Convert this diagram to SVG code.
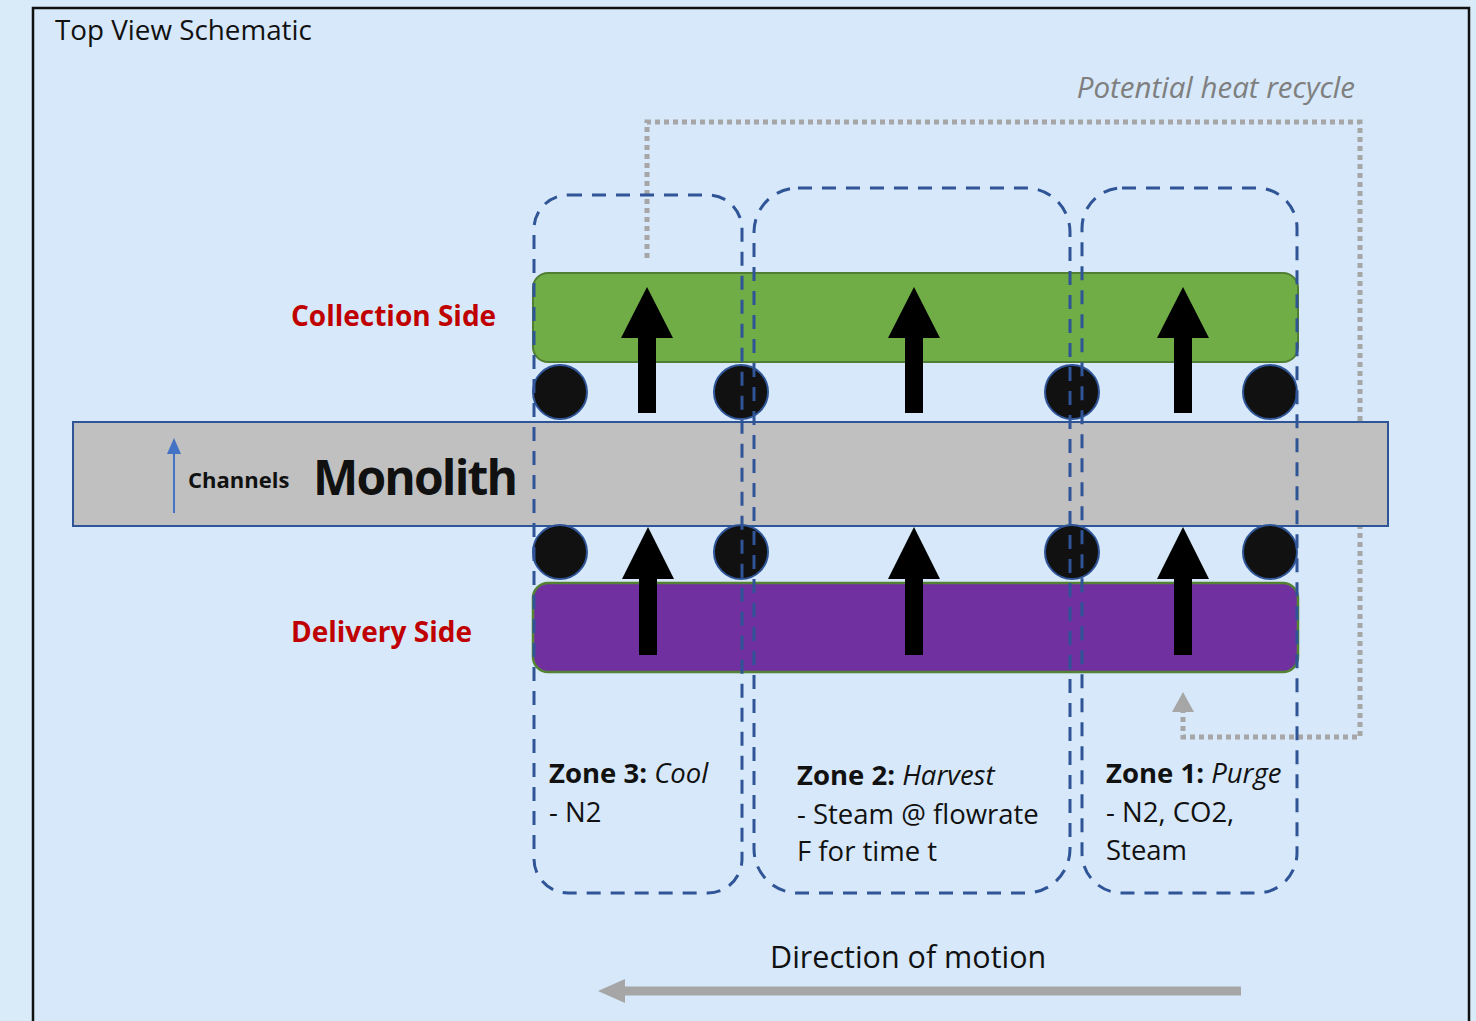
<svg xmlns="http://www.w3.org/2000/svg" width="1476" height="1021" viewBox="0 0 1476 1021">
<defs>
<style>
.t{font-family:"Open Sans","Liberation Sans",sans-serif;fill:#111}
.red{font-family:"Open Sans","Liberation Sans",sans-serif;font-weight:bold;fill:#c00000;font-size:28px}
.zone{fill:none;stroke:#2f5597;stroke-width:3;stroke-dasharray:14 10}
.wheel{fill:#111;stroke:#2f5597;stroke-width:2}
.up{fill:#000}
.zt{font-family:"Open Sans","Liberation Sans",sans-serif;font-size:27.5px;fill:#111}
</style>
</defs>
<rect x="0" y="0" width="1476" height="1021" fill="#d9eaf9"/>
<rect x="33" y="8" width="1436" height="1030" fill="#d6e8f9" stroke="#111" stroke-width="2.5"/>
<text class="t" x="55" y="40" font-size="27.8">Top View Schematic</text>

<g id="recycle">
<polyline points="647,258 647,122 1360,122 1360,737 1183,737 1183,712" fill="none" stroke="#a6a6a6" stroke-width="5" stroke-dasharray="5 4"/>
<path d="M1172,712 L1183,692 L1194,712 Z" fill="#a6a6a6"/>
<text x="1355" y="98" text-anchor="end" font-family="'Open Sans','Liberation Sans',sans-serif" font-style="italic" font-size="29.5" fill="#7f7f7f">Potential heat recycle</text>
</g>

<g id="collection">
<rect x="533" y="273" width="765" height="89" rx="15" fill="#70ad47" stroke="#507e32" stroke-width="2"/>
<text class="red" x="291" y="326">Collection Side</text>
</g>
<g id="delivery">
<rect x="533" y="583" width="765" height="89" rx="15" fill="#7030a0" stroke="#548235" stroke-width="2.5"/>
<text class="red" x="291" y="642">Delivery Side</text>
</g>

<g id="monolith">
<rect x="73" y="422" width="1315" height="104" fill="#c0c0c0" stroke="#2f5597" stroke-width="2"/>
<line x1="174" y1="513" x2="174" y2="452" stroke="#4472c4" stroke-width="2"/>
<path d="M167,454 L174,438 L181,454 Z" fill="#4472c4"/>
<text class="t" x="188" y="488" font-size="22" font-weight="bold">Channels</text>
<text class="t" x="313" y="495" font-size="48" font-weight="bold" textLength="205">Monolith</text>
</g>

<g id="wheels">
<circle class="wheel" cx="560" cy="392" r="27"/>
<circle class="wheel" cx="741" cy="392" r="27"/>
<circle class="wheel" cx="1072" cy="392" r="27"/>
<circle class="wheel" cx="1270" cy="392" r="27"/>
<circle class="wheel" cx="560" cy="552" r="27"/>
<circle class="wheel" cx="741" cy="552" r="27"/>
<circle class="wheel" cx="1072" cy="552" r="27"/>
<circle class="wheel" cx="1270" cy="552" r="27"/>
</g>

<g id="connectors">
<path class="up" d="M638,413 L638,338 L621,338 L647,287 L673,338 L656,338 L656,413 Z"/>
<path class="up" d="M905,413 L905,338 L888,338 L914,287 L940,338 L923,338 L923,413 Z"/>
<path class="up" d="M1174,413 L1174,338 L1157,338 L1183,287 L1209,338 L1192,338 L1192,413 Z"/>
<path class="up" d="M639,655 L639,579 L622,579 L648,527 L674,579 L657,579 L657,655 Z"/>
<path class="up" d="M905,655 L905,579 L888,579 L914,527 L940,579 L923,579 L923,655 Z"/>
<path class="up" d="M1174,655 L1174,579 L1157,579 L1183,527 L1209,579 L1192,579 L1192,655 Z"/>
</g>

<g id="zone3">
<rect class="zone" x="534" y="195" width="208" height="698" rx="34"/>
<text class="zt" x="549" y="783"><tspan font-weight="bold">Zone 3:</tspan> <tspan font-style="italic">Cool</tspan></text>
<text class="zt" x="549" y="822">- N2</text>
</g>
<g id="zone2">
<rect class="zone" x="754" y="188" width="316" height="705" rx="44"/>
<text class="zt" x="797" y="785"><tspan font-weight="bold">Zone 2:</tspan> <tspan font-style="italic">Harvest</tspan></text>
<text class="zt" x="797" y="824">- Steam @ flowrate</text>
<text class="zt" x="797" y="861">F for time t</text>
</g>
<g id="zone1">
<rect class="zone" x="1082" y="188" width="215" height="705" rx="40"/>
<text class="zt" x="1106" y="783"><tspan font-weight="bold">Zone 1:</tspan> <tspan font-style="italic">Purge</tspan></text>
<text class="zt" x="1106" y="822">- N2, CO2,</text>
<text class="zt" x="1106" y="860">Steam</text>
</g>

<g id="motion">
<text class="t" x="770" y="968" font-size="30.5">Direction of motion</text>
<line x1="1241" y1="991" x2="622" y2="991" stroke="#a6a6a6" stroke-width="9"/>
<path d="M625,979 L598,991 L625,1003 Z" fill="#a6a6a6"/>
</g>
</svg>
